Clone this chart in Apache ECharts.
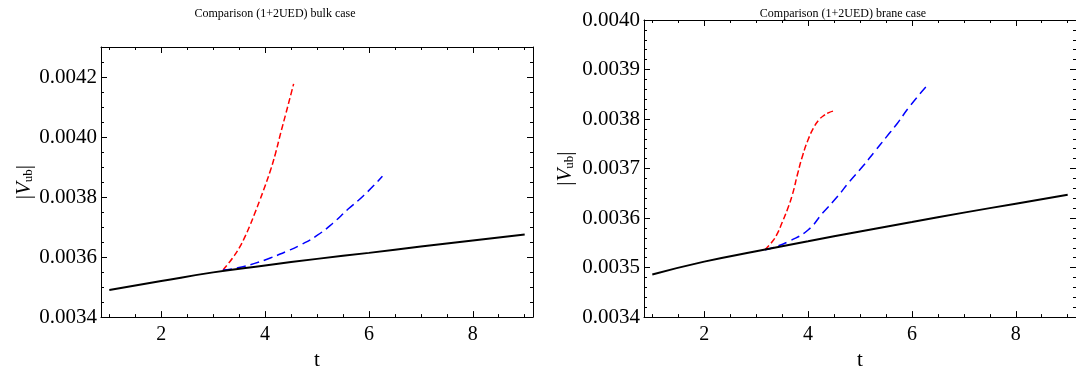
<!DOCTYPE html>
<html>
<head>
<meta charset="utf-8">
<script src="https://cdn.jsdelivr.net/npm/echarts@6/dist/echarts.min.js"></script>
<style>
html, body { margin: 0; padding: 0; background: #fff; }
#chart { width: 1076px; height: 376px; }
</style>
</head>
<body>
<div id="chart"></div>
<script>
// SM curve (black), sampled in t
var smT = [1, 2, 3, 4, 5, 6, 7, 8, 9];
var bulkSM = [0.003490, 0.003520, 0.003549, 0.003572, 0.003594, 0.003614, 0.003635, 0.003655, 0.003675];
var braneSM = [0.003486, 0.003512, 0.003533, 0.003553, 0.003573, 0.003592, 0.003611, 0.003629, 0.003647];

// bulk case, red dashed
var bulkRedT = [3.19, 3.3, 3.4, 3.5, 3.6, 3.7, 3.8, 3.9, 4.0, 4.1, 4.2, 4.3, 4.4, 4.5, 4.55];
var bulkRed = [0.003557, 0.003580, 0.003603, 0.003630, 0.003663, 0.003702, 0.003745, 0.003790, 0.003837, 0.003887, 0.003945, 0.004013, 0.004078, 0.004144, 0.004177];
// bulk case, blue dashed
var bulkBlueT = [3.19, 3.5, 3.8, 4.1, 4.4, 4.7, 5.0, 5.3, 5.6, 5.9, 6.26];
var bulkBlue = [0.003557, 0.003565, 0.003579, 0.003597, 0.003618, 0.003642, 0.003672, 0.003712, 0.003760, 0.003805, 0.003869];

// brane case, red dashed
var braneRedT = [3.17, 3.3, 3.4, 3.5, 3.6, 3.7, 3.8, 3.9, 4.0, 4.1, 4.2, 4.3, 4.4, 4.48];
var braneRed = [0.003536, 0.003551, 0.003567, 0.003591, 0.003617, 0.003648, 0.003690, 0.003728, 0.003758, 0.003781, 0.003797, 0.003807, 0.003813, 0.003816];
// brane case, blue dashed
var braneBlueT = [3.17, 3.32, 3.65, 4.0, 4.28, 4.57, 4.8, 5.05, 5.28, 5.51, 5.71, 5.96, 6.28];
var braneBlue = [0.003536, 0.003540, 0.003554, 0.003576, 0.003610, 0.003644, 0.003674, 0.003704, 0.003734, 0.003764, 0.003790, 0.003826, 0.003866];

// tick labels
var xTicks = [2, 4, 6, 8];
var bulkYTicks = [0.0034, 0.0036, 0.0038, 0.0040, 0.0042];
var braneYTicks = [0.0034, 0.0035, 0.0036, 0.0037, 0.0038, 0.0039, 0.0040];

var FONT = "Liberation Serif";

// minor ticks between from..to by step, skipping the majors
function minorTicks(from, to, step, majors) {
    var out = [];
    var n = Math.round((to - from) / step);
    for (var i = 0; i <= n; i++) {
        var v = +(from + i * step).toFixed(7);
        var isMajor = majors.some(function (m) { return Math.abs(m - v) < step / 10; });
        if (!isMajor) out.push(v);
    }
    return out;
}

function pairs(xs, ys) {
    return xs.map(function (x, i) { return [x, ys[i]]; });
}

// four axes for one direction of a framed panel: main side major/minor, opposite side major/minor
function frameAxes(grid, dir, min, max, majors, minors, fmt, nameCfg) {
    var sides = dir === "x" ? ["bottom", "top"] : ["left", "right"];
    var out = [];
    sides.forEach(function (pos, s) {
        [majors, minors].forEach(function (vals, k) {
            var ax = {
                type: "value",
                gridIndex: grid,
                position: pos,
                min: min,
                max: max,
                axisLine: { show: k === 0, onZero: false, lineStyle: { color: "#000", width: 1 } },
                axisTick: { show: true, inside: true, length: k === 0 ? 6 : 3, customValues: vals, lineStyle: { color: "#000", width: 1 } },
                axisLabel: {
                    show: s === 0 && k === 0,
                    customValues: vals,
                    color: "#000",
                    fontFamily: FONT,
                    fontSize: dir === "x" ? 20 : 21,
                    margin: dir === "x" ? 8 : 4,
                    formatter: fmt
                },
                splitLine: { show: false }
            };
            if (s === 0 && k === 0 && nameCfg) Object.assign(ax, nameCfg);
            out.push(ax);
        });
    });
    return out;
}

var xName = {
    name: "t",
    nameLocation: "middle",
    nameGap: 29,
    nameTextStyle: { color: "#000", fontFamily: FONT, fontSize: 21 }
};
function yName(gap) {
    return {
        name: "|{v|V}{sub|ub}|",
        nameLocation: "middle",
        nameGap: gap,
        nameRotate: 90,
        nameTextStyle: {
            color: "#000", fontFamily: FONT, fontSize: 21,
            rich: {
                v: { fontFamily: FONT, fontSize: 21, fontStyle: "italic", color: "#000" },
                sub: { fontFamily: FONT, fontSize: 13, color: "#000", padding: [9, 0, 0, 0] }
            }
        }
    };
}
var xFmt = function (v) { return String(v); };
var yFmt = function (v) { return v.toFixed(4); };

var xMin = 0.84, xMax = 9.16;
var xMinor = minorTicks(1, 9, 0.5, xTicks);

var xAxes = []
    .concat(frameAxes(0, "x", xMin, xMax, xTicks, xMinor, xFmt, xName))
    .concat(frameAxes(1, "x", xMin, xMax, xTicks, xMinor, xFmt, xName));
var yAxes = []
    .concat(frameAxes(0, "y", 0.0034, 0.0043, bulkYTicks, minorTicks(0.0034, 0.0043, 0.00005, bulkYTicks), yFmt, yName(62)))
    .concat(frameAxes(1, "y", 0.0034, 0.0040, braneYTicks, minorTicks(0.0034, 0.0040, 0.00002, braneYTicks), yFmt, yName(68)));

function line(panel, data, color, width, dash, z) {
    return {
        type: "line",
        xAxisIndex: panel * 4,
        yAxisIndex: panel * 4,
        data: data,
        showSymbol: false,
        smooth: true,
        z: z,
        lineStyle: { color: color, width: width, type: dash }
    };
}

var myChart = echarts.init(document.getElementById("chart"));
var option = {
    backgroundColor: "#fff",
    animation: false,
    title: [
        { text: "Comparison (1+2UED) bulk case", left: 270, top: 3, textAlign: "center",
          textStyle: { fontFamily: FONT, fontSize: 12, fontWeight: "normal", color: "#000" } },
        { text: "Comparison (1+2UED) brane case", left: 838, top: 3, textAlign: "center",
          textStyle: { fontFamily: FONT, fontSize: 12, fontWeight: "normal", color: "#000" } }
    ],
    grid: [
        { left: 101, top: 47, width: 432, height: 273 },
        { left: 644, top: 20, width: 432, height: 300 }
    ],
    xAxis: xAxes,
    yAxis: yAxes,
    series: [
        line(0, pairs(smT, bulkSM), "#000", 2, "solid", 3),
        line(0, pairs(bulkRedT, bulkRed), "#ff0000", 1.5, [6, 3], 2),
        line(0, pairs(bulkBlueT, bulkBlue), "#0000ff", 1.5, [9, 5], 2),
        line(1, pairs(smT, braneSM), "#000", 2, "solid", 3),
        line(1, pairs(braneRedT, braneRed), "#ff0000", 1.5, [6, 3], 2),
        line(1, pairs(braneBlueT, braneBlue), "#0000ff", 1.5, [9, 5], 2)
    ]
};
myChart.setOption(option);
</script>
</body>
</html>
